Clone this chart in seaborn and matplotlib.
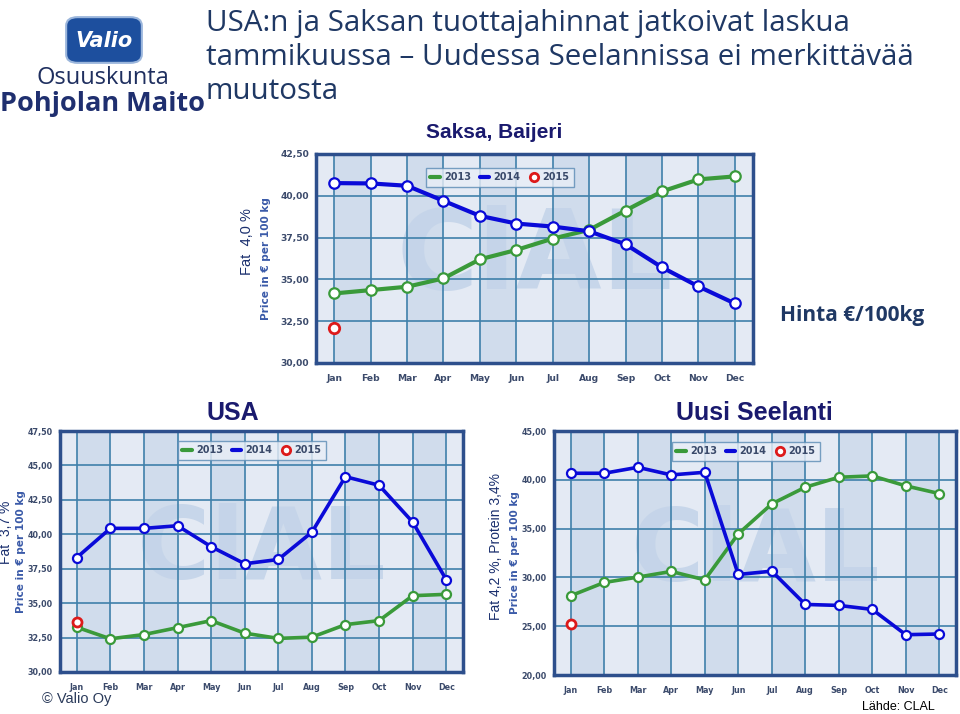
import matplotlib
matplotlib.use("Agg")
import matplotlib.pyplot as plt
from matplotlib.lines import Line2D
from matplotlib.patches import FancyBboxPatch
import seaborn as sns
import pandas as pd
import numpy as np

# ---------------- data ----------------
months = ["Jan", "Feb", "Mar", "Apr", "May", "Jun", "Jul", "Aug", "Sep", "Oct", "Nov", "Dec"]

de_2013 = [34.16, 34.36, 34.56, 35.06, 36.20, 36.76, 37.44, 37.96, 39.12, 40.26, 40.98, 41.16]
de_2014 = [40.76, 40.74, 40.60, 39.70, 38.80, 38.34, 38.16, 37.88, 37.10, 35.72, 34.58, 33.56]
de_2015 = [32.10]

us_2013 = [33.25, 32.41, 32.72, 33.22, 33.73, 32.82, 32.44, 32.53, 33.44, 33.73, 35.54, 35.64]
us_2014 = [38.31, 40.43, 40.43, 40.62, 39.10, 37.86, 38.17, 40.15, 44.18, 43.56, 40.89, 36.71]
us_2015 = [33.63]

nz_2013 = [28.12, 29.48, 30.03, 30.61, 29.75, 34.46, 37.53, 39.24, 40.26, 40.40, 39.38, 38.59]
nz_2014 = [40.67, 40.67, 41.28, 40.50, 40.77, 30.30, 30.64, 27.23, 27.13, 26.72, 24.13, 24.20]
nz_2015 = [25.25]

de_yticks = [30.0, 32.5, 35.0, 37.5, 40.0, 42.5]
us_yticks = [30.0, 32.5, 35.0, 37.5, 40.0, 42.5, 45.0, 47.5]
nz_yticks = [20.0, 25.0, 30.0, 35.0, 40.0, 45.0]

series_years = ["2013", "2014", "2015"]

# ---------------- style ----------------
sns.set_style("white")
plt.rcParams["font.family"] = ["DejaVu Sans"]

W, H = 960, 714
fig = plt.figure(figsize=(W / 100, H / 100), dpi=100)
fig.patch.set_facecolor("white")

GREEN = "#3a9a3a"
BLUE = "#0a0ad8"
RED = "#dd1a1a"
GRID = "#3f80aa"
FRAME = "#2d4f8c"
BG = "#e4eaf4"
BAND = "#d0dcec"
TICKC = "#3b4a6b"
NAVY = "#1f3864"


def rect(l, t, r, b):
    return [l / W, 1 - b / H, (r - l) / W, (b - t) / H]


def fx(x, y):
    return x / W, 1 - y / H


def make_chart(box, y13, y14, y15, yticks, legend_xy, ylabel_x, wm_size, msize, lw, tsize):
    ax = fig.add_axes(rect(*box))
    ax.set_facecolor(BG)
    for i in range(0, 12, 2):
        ax.axvspan(i, i + 1, color=BAND, zorder=0.1, lw=0)
    ax.text(0.5, 0.5, "ClAL", transform=ax.transAxes, ha="center", va="center",
            fontsize=wm_size, fontweight="bold", family="DejaVu Sans",
            color="#c4d4e9", alpha=0.9, zorder=0.3)
    df13 = pd.DataFrame({"month": months, "price": y13})
    df14 = pd.DataFrame({"month": months, "price": y14})
    df15 = pd.DataFrame({"month": months[:len(y15)], "price": y15})
    sns.lineplot(data=df13, x="month", y="price", ax=ax, color=GREEN, lw=lw, marker="o",
                 markersize=msize, markerfacecolor="white", markeredgecolor=GREEN,
                 markeredgewidth=1.6, zorder=3, sort=False)
    sns.lineplot(data=df14, x="month", y="price", ax=ax, color=BLUE, lw=lw, marker="o",
                 markersize=msize, markerfacecolor="white", markeredgecolor=BLUE,
                 markeredgewidth=1.6, zorder=4, sort=False)
    sns.lineplot(data=df15, x="month", y="price", ax=ax, color=RED, lw=0, marker="o",
                 markersize=msize, markerfacecolor="white", markeredgecolor=RED,
                 markeredgewidth=2.0, zorder=5)
    ax.set_xlim(-0.5, 11.5)
    ax.set_ylim(yticks[0], yticks[-1])
    ax.set_yticks(yticks)
    ax.set_yticklabels([f"{v:.2f}".replace(".", ",") for v in yticks])
    ax.set_xticks(range(12))
    ax.set_xticklabels(months)
    ax.tick_params(axis="y", length=0, labelsize=tsize, labelcolor=TICKC, pad=5)
    ax.tick_params(axis="x", length=0, labelsize=tsize, labelcolor=TICKC, pad=8)
    for lab in ax.get_xticklabels() + ax.get_yticklabels():
        lab.set_fontweight("bold")
    ax.set_axisbelow(True)
    ax.grid(True, color=GRID, lw=1.2, zorder=0.5)
    for s in ax.spines.values():
        s.set_color(FRAME)
        s.set_linewidth(2.5)
    ax.set_xlabel("")
    ax.set_ylabel("Price in € per 100 kg", fontsize=7.6, fontweight="bold", color="#3a5aa8")
    pos = ax.get_position()
    ax.yaxis.set_label_coords(ylabel_x, pos.y0 + pos.height / 2, transform=fig.transFigure)
    handles = [Line2D([], [], color=GREEN, lw=3),
               Line2D([], [], color=BLUE, lw=3),
               Line2D([], [], color=RED, lw=0, marker="o", markerfacecolor="white",
                      markeredgecolor=RED, markeredgewidth=2, markersize=6)]
    leg = ax.legend(handles, series_years, ncol=3, loc="upper left",
                    bbox_to_anchor=fx(*legend_xy), bbox_transform=fig.transFigure,
                    frameon=True, fontsize=7, handlelength=1.0, handletextpad=0.4,
                    columnspacing=0.9, borderpad=0.45, fancybox=False)
    leg.get_frame().set_edgecolor("#5b8bb5")
    leg.get_frame().set_facecolor("#e9eef7")
    leg.get_frame().set_linewidth(1.0)
    for t in leg.get_texts():
        t.set_fontweight("bold")
        t.set_color("#3a4a6a")
    return ax


make_chart((316, 154, 753, 363), de_2013, de_2014, de_2015, de_yticks, (421, 163), 271 / W, 80, 7.5, 3.0, 6.6)
make_chart((60, 431, 463, 672), us_2013, us_2014, us_2015, us_yticks, (173, 436), 26 / W, 72, 6.5, 2.6, 5.8)
make_chart((554, 431, 956, 675), nz_2013, nz_2014, nz_2015, nz_yticks, (667, 437), 520 / W, 72, 6.5, 2.6, 5.8)

# ---------------- texts ----------------
title_lines = ["USA:n ja Saksan tuottajahinnat jatkoivat laskua",
               "tammikuussa – Uudessa Seelannissa ei merkittävää",
               "muutosta"]
title_baselines = [31, 65, 99]
for line, yb in zip(title_lines, title_baselines):
    fig.text(*fx(206, yb), line, fontsize=21.3, color=NAVY, family="Open Sans",
             ha="left", va="baseline")

fig.text(*fx(494, 133), "Saksa, Baijeri", fontsize=15, fontweight="bold", color="#1a1a6e",
         family="Liberation Sans", ha="center", va="center")
fig.text(*fx(233, 413), "USA", fontsize=18, fontweight="bold", color="#1a1a6e",
         family="Liberation Sans", ha="center", va="center")
fig.text(*fx(754, 413), "Uusi Seelanti", fontsize=18, fontweight="bold", color="#1a1a6e",
         family="Liberation Sans", ha="center", va="center")
fig.text(*fx(247, 242), "Fat  4,0 %", fontsize=10.5, color="#1a2f6e", rotation=90,
         family="Liberation Sans", ha="center", va="center")
fig.text(*fx(6, 532), "Fat  3,7 %", fontsize=10, color="#1a2f6e", rotation=90,
         family="Liberation Sans", ha="center", va="center")
fig.text(*fx(496, 546), "Fat 4,2 %, Protein 3,4%", fontsize=10, color="#1a2f6e", rotation=90,
         family="Liberation Sans", ha="center", va="center")
fig.text(*fx(852, 316), "Hinta €/100kg", fontsize=15, fontweight="bold", color=NAVY,
         family="Open Sans", ha="center", va="center")
fig.text(*fx(42, 699), "© Valio Oy", fontsize=10.5, color="#2a3a5a",
         family="Liberation Sans", ha="left", va="center")
fig.text(*fx(898, 707), "Lähde: CLAL", fontsize=9, color="black",
         family="Liberation Sans", ha="center", va="center")

# logo
badge = FancyBboxPatch(fx(70, 60), 68 / W, 40 / H, boxstyle="round,pad=0.004,rounding_size=0.012",
                       transform=fig.transFigure, facecolor="#1d4f9e", edgecolor="#9bb6dc",
                       lw=1.5, figure=fig)
fig.patches.append(badge)
fig.text(*fx(104, 41), "Valio", fontsize=15, fontweight="bold", style="italic", color="white",
         family="DejaVu Sans", ha="center", va="center")
fig.text(*fx(103, 78), "Osuuskunta", fontsize=17, color="#1f2f5f", family="Open Sans",
         ha="center", va="center")
fig.text(*fx(102, 104), "Pohjolan Maito", fontsize=19.5, fontweight="bold", color="#1f2f6f",
         family="Open Sans", ha="center", va="center")

fig.savefig("out.png", dpi=100)
